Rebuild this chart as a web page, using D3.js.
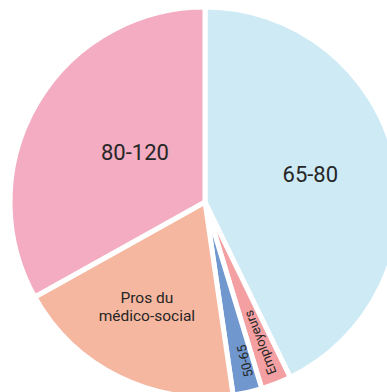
<!DOCTYPE html>
<html>
<head>
<meta charset="utf-8">
<script src="https://cdn.jsdelivr.net/npm/d3@7"></script>
<style>
  html, body { margin: 0; padding: 0; background: #ffffff; overflow: hidden; }
  svg { display: block; }
</style>
</head>
<body>
<svg id="chart" width="387" height="392"></svg>
<script>
// Répartition par catégorie (en %)
const categories = ["65-80", "Employeurs", "50-65", "Pros du médico-social", "80-120"];
const values = [42.8, 2.5, 2.4, 19.2, 33.1];
const colors = ["#cdeaf5", "#f4a0a3", "#7098cf", "#f6b7a0", "#f3acc1"];
// Label lines and placement per slice (radius from centre, angular nudge in degrees)
const labelLines = [["65-80"], ["Employeurs"], ["50-65"], ["Pros du", "médico-social"], ["80-120"]];
const labelRadius = [109, 151, 164, 120, 86];
const labelShift = [-2, 0, -1.5, 2.7, 5];
const labelSize = [22, 13, 13, 15.5, 22];
const labelRotated = [false, true, true, false, false];

const cx = 205, cy = 202, radius = 195;

const svg = d3.select("#chart");
const g = svg.append("g").attr("transform", `translate(${cx},${cy})`);

const data = categories.map((c, i) => ({ name: c, value: values[i], i }));

const pie = d3.pie().value(d => d.value).sort(null);
const arc = d3.arc().innerRadius(0).outerRadius(radius);

const arcs = pie(data);

g.selectAll("path.slice")
  .data(arcs)
  .join("path")
  .attr("class", "slice")
  .attr("d", arc)
  .attr("fill", d => colors[d.data.i])
  .attr("stroke", "#ffffff")
  .attr("stroke-width", 5)
  .attr("stroke-linejoin", "miter");

// Labels
const labels = g.selectAll("g.label")
  .data(arcs)
  .join("g")
  .attr("class", "label")
  .attr("transform", d => {
    const i = d.data.i;
    const a = (d.startAngle + d.endAngle) / 2 + labelShift[i] * Math.PI / 180;
    const r = labelRadius[i];
    const x = Math.sin(a) * r, y = -Math.cos(a) * r;
    if (labelRotated[i]) {
      const rot = a * 180 / Math.PI - 270;
      return `translate(${x},${y}) rotate(${rot})`;
    }
    return `translate(${x},${y})`;
  });

labels.each(function(d) {
  const i = d.data.i;
  const lines = labelLines[i];
  const size = labelSize[i];
  const lh = size * 1.15;
  const t = d3.select(this).append("text")
    .attr("text-anchor", "middle")
    .attr("font-family", "Roboto, 'Noto Sans', sans-serif")
    .attr("font-weight", 400)
    .attr("font-size", size)
    .attr("fill", "#262626");
  lines.forEach((line, k) => {
    t.append("tspan")
      .attr("x", 0)
      .attr("y", (k - (lines.length - 1) / 2) * lh)
      .attr("dy", "0.35em")
      .text(line);
  });
});
</script>
</body>
</html>
